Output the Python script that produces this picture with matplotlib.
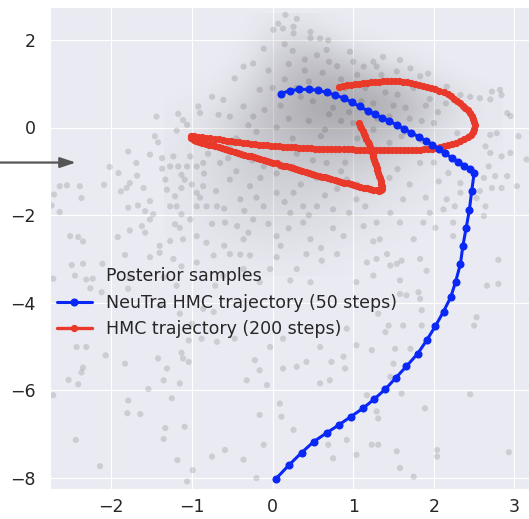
import numpy as np
import matplotlib
matplotlib.use("Agg")
import matplotlib.pyplot as plt
import seaborn as sns

# posterior samples (sparse dots)
post_x = [-0.92, -0.90, -1.44, -1.17, -1.11, -1.06, -1.19, -1.46, -1.42, -1.79, -2.02, -1.91, -1.69, -1.68, -1.52,
          -1.37, -1.33, -2.64, -2.55, -2.39, -2.37, -2.09, -2.71, -2.74, -2.64, -1.88, -1.77, -1.81, -1.60, -1.79,
          -1.67, -1.58, -1.52, -1.48, -2.51, -2.41, -2.35, -1.92, -1.77, -1.58, -1.62, -1.40, -1.27,
          -1.37, -1.27, -1.23, -1.17, -1.13, -1.09, -1.06, -1.02, -0.94, -0.86, -1.31, -1.21, -1.13, -1.27, -1.19,
          -1.13, -1.21, -1.15, -1.02, -0.94, -0.94, -0.86, -0.82, -0.94, -1.11, -0.82, -1.52,
          -2.49, -2.11, -1.83, -2.45, -2.31, -2.23, -2.72, -2.26, -2.12, -1.79, -2.43, -2.31, -2.07, -2.35, -2.37,
          -2.53, -2.41, -1.83, -2.72, -1.54, -1.79, -1.80, -1.64, -1.25, -1.33, -1.35, -1.09, -2.44, -1.18, -2.14,
          -0.99, -1.06, -1.42, -1.31, -1.13, -1.11, -1.04, -1.15, -1.35, -0.88, -2.35, -1.52, -1.40, -1.23, -1.13,
          -1.35, -1.77, -1.19, -0.94, -1.00, -0.86, -1.15, -1.40, -1.04,
          -0.73, -0.53, -0.28, 0.05, 0.42, 0.61, 0.80, 1.04, 1.17, 0.30, 0.47, 0.22, -0.03, -0.16, -0.36, -0.61,
          -0.71, -0.73, -0.69, -0.47, -0.03, 0.13, 0.59, 0.92, 1.04, 0.88, 0.73, 0.42, 0.30, 0.13, -0.22, -0.16,
          -0.32, -0.07, 0.09, 0.59, 0.71, 0.90, 1.17, -0.16, 0.11, 0.26, -0.11, -0.36, -0.59, -0.75, 0.69, 0.75,
          0.92, 1.04, -0.20,
          1.29, 1.42, 1.54, 1.46, 1.60, 1.83, 1.91, 1.25, 1.58, 1.81, 1.58, 1.66, 1.83, 1.31, 1.85, 1.44, 1.40,
          1.62, 1.85, 2.53, 2.50, 2.66, 2.80, 2.80, 1.52, 1.71, 1.23, 1.50, 1.46, 1.60, 2.45, 1.89, 1.29, 1.31,
          1.23, 1.31, 1.54, 2.04, 2.04, 2.93, 1.58, 1.75,
          2.45, 2.57, 2.84, 2.72, 2.91, 2.78, 2.70, 2.64, 2.84, 2.95, 3.05, 3.15, 2.70, 2.68, 2.76, 2.91, 3.03,
          2.84, 2.72, 2.62, 2.57, 2.62, 2.64, 2.53, 2.33, 2.26, 2.16, 2.06, 2.12, 1.95, 1.87, 2.02, 2.24, 2.24,
          1.75, 1.62, 1.46, 1.58, 1.29, 1.33, 1.83, 2.18, 2.33, 2.29, 1.58, 1.37, 1.25, 1.93, 1.71, 2.16, 2.33,
          0.16, 0.26, 0.01, 0.47, 0.67, 0.96, 1.13, 1.29, 1.54, 1.83, 2.82, 2.70, 2.95, 0.30, 0.07, 0.13, 0.26,
          0.47, 0.69, 0.59, -0.11, -0.36, -0.47, -0.61, -0.67, -0.75, -0.24,
          -0.65, -0.53, -0.40, -0.69, -0.59, -0.24, -0.11, 0.05, 0.22, 0.38, 0.55, 0.75, 0.92, 1.04, 1.13, 0.88,
          0.47, 0.05, -0.36, -0.44, -0.11, 0.26, 0.67, -0.28, 0.38, -0.53, -0.36, -0.16, -0.53, -0.24,
          0.30, 0.50, 0.70, 0.90, 1.10, 1.30, 1.50, 1.70, 0.20, 0.40, 0.80, 1.00, 0.60, 1.40, 1.90, 0.10, -0.20,
          0.30, 0.90, 1.60, 2.00, 0.55, 0.25, 1.05,
          0.15, 0.35, 0.45, 0.62, 0.75, 0.85, 0.95, 1.15, 1.25, 1.35, 1.45, 1.55, 1.65, 1.75, 1.85, 1.95, 2.05,
          2.15, 0.05, 0.25, 0.45, 0.65, 0.85, 1.05, 1.25, 1.45, 1.65, 1.85, 0.00, -0.10, -0.30, -0.45, 0.15, 0.40,
          0.70, 1.00, 0.20, -0.05,
          -0.85, -0.70, -0.55, -0.45, -0.35, -0.25, -0.15, -0.05, 0.05, 0.15, 0.25, 0.35, 0.45, 0.55, 0.65, 0.75,
          0.85, 0.95, 1.05, 1.15, 1.25, 1.45, 1.55, 1.70, -0.75, -0.60, -0.30, 0.10, 0.60, -0.90, -0.20, 0.20,
          0.50, -0.60, 0.80, -0.40, 1.90, 2.00, -1.00, -0.80]
post_y = [0.48, 0.33, 0.25, 0.31, 0.17, 0.06, -0.07, -0.20, -0.34, -0.55, -0.90, -1.04, -0.81, -1.10, -0.62,
          -0.94, -1.19, -1.34, -1.32, -1.34, -1.61, -1.31, -1.53, -1.78, -1.93, -1.46, -1.27, -1.38, -1.38, -1.83,
          -1.78, -1.91, -2.10, -1.98, -2.48, -2.50, -2.60, -2.50, -2.35, -2.40, -2.25, -2.70, -2.59,
          -0.70, -0.89, -0.66, -0.89, -1.08, -1.19, -0.89, -0.66, -0.89, -0.81, -1.42, -1.57, -1.38, -1.80, -1.80,
          -1.98, -2.21, -2.29, -2.10, -1.80, -1.49, -1.34, -1.80, -2.48, -2.55, -2.63, -1.68,
          -3.14, -3.11, -2.91, -3.38, -3.47, -3.45, -3.45, -3.67, -3.76, -3.68, -5.01, -5.01, -5.20, -5.48, -5.59,
          -5.76, -5.86, -5.39, -6.11, -5.97, -6.23, -6.52, -6.54, -6.18, -6.86, -7.11, -6.83, -7.13, -7.59, -7.73,
          -7.82, -8.08, -5.27, -5.50, -5.14, -5.27, -5.35, -5.84, -5.77, -4.82, -3.11, -2.96, -2.86, -3.00, -3.17,
          -3.42, -3.42, -3.61, -3.08, -4.48, -4.14, -4.25, -4.06, -4.86,
          -2.92, -2.89, -2.92, -2.96, -2.89, -3.04, -2.89, -3.53, -3.08, -3.23, -3.53, -3.49, -3.23, -3.53, -3.23,
          -3.38, -3.61, -4.21, -4.89, -4.82, -5.01, -4.82, -5.01, -4.59, -4.97, -5.23, -5.35, -5.35, -5.46, -5.50,
          -5.31, -5.54, -5.77, -5.88, -6.30, -5.84, -5.77, -5.50, -6.11, -6.56, -6.60, -6.90, -7.24, -7.58, -7.36,
          -7.51, -7.24, -7.55, -7.13, -7.47, -8.00,
          -3.00, -2.89, -3.11, -3.15, -3.04, -3.00, -3.27, -3.38, -3.49, -3.76, -3.80, -3.83, -3.91, -4.25, -4.17,
          -4.52, -4.67, -4.52, -4.52, -4.33, -4.52, -3.61, -3.57, -3.02, -5.05, -5.05, -5.08, -5.39, -5.69, -6.07,
          -6.09, -6.41, -6.48, -6.64, -7.24, -7.24, -7.39, -7.36, -7.51, -7.41, -7.77, -7.97,
          0.70, 0.67, 0.74, 0.82, 0.33, -0.13, -0.17, -0.43, -0.66, -0.58, -0.20, -0.73, -0.58, -0.89, -1.11,
          -1.11, -1.34, -1.38, -1.38, -1.15, -1.45, -2.02, -1.80, -1.61, -1.49, -1.80, -1.64, -1.23, -1.87, -1.95,
          -2.17, -2.29, -2.48, -2.17, -2.55, -1.64, -1.95, -2.17, -2.17, -2.55, -0.81, -1.04, -1.27, -0.13, 1.54,
          1.61, 1.50, 1.23, 1.35, 0.93, 0.74,
          2.57, 2.15, 2.23, 2.04, 1.77, 1.73, 1.39, 1.39, 1.28, 1.17, 0.86, 0.64, 0.26, 2.48, 2.37, 2.26, 2.30,
          2.18, 1.99, 2.03, 1.80, 1.39, 1.12, 0.63, 0.29, 0.70, 1.46,
          -0.81, -1.19, -1.64, -1.80, -2.17, -2.10, -1.80, -1.49, -1.95, -2.17, -1.80, -1.87, -1.19, -1.64, -2.25,
          -2.48, -2.55, -2.48, -2.55, -2.25, -0.89, -1.49, -0.81, -1.34, -1.80, -0.43, 0.48, 0.86, 0.25, 0.25,
          0.90, 0.60, 0.30, 0.90, 0.60, 0.20, 0.50, 0.20, 0.20, 1.30, 1.40, 0.10, -0.20, 0.80, 0.50, 0.50, -0.10,
          -0.60, -0.80, -0.20, 0.10, 1.65, 1.75, 1.20,
          1.10, 0.70, 1.05, 1.25, 0.45, 1.10, 0.35, 0.90, 0.55, 1.20, 0.25, 0.75, 0.45, 0.90, 0.15, 0.65, 0.35,
          0.55, 0.00, -0.25, 0.15, -0.05, 0.15, -0.25, -0.05, -0.35, -0.10, -0.30, 0.90, 0.40, 0.05, -0.25, 1.90,
          1.55, 1.50, 1.50, 1.45, 1.30,
          -1.05, -1.45, -0.70, -1.00, -1.90, -0.75, -1.15, -2.20, -1.05, -1.70, -0.90, -1.30, -2.00, -1.15, -1.55,
          -2.30, -1.00, -1.95, -1.30, -1.80, -2.60, -1.15, -0.95, -1.30, -2.20, -2.70, -2.40, -2.70, -2.75, -1.60,
          -1.60, -2.30, -0.75, -1.85, -1.40, -2.90, -1.60, -0.80, -1.30, -0.60]

# density of the dense core (0 = empty, 1 = darkest)
haze_x = [-1.2, -0.9, -0.6, -0.3, 0.0, 0.3, 0.6, 0.9, 1.2, 1.5, 1.8, 2.1, 2.4, 2.7]
haze_y = [2.4, 2.0, 1.6, 1.2, 0.8, 0.4, 0.0, -0.4, -0.8, -1.2, -1.6, -2.0, -2.4, -2.8, -3.2]
haze = [
    [0, 0, 0, 0, 0.05, 0.08, 0.03, 0, 0, 0, 0, 0, 0, 0],
    [0, 0, 0, 0.02, 0.15, 0.22, 0.18, 0.06, 0.02, 0, 0, 0, 0, 0],
    [0, 0, 0, 0.06, 0.25, 0.38, 0.38, 0.28, 0.14, 0.07, 0.02, 0, 0, 0],
    [0, 0, 0.03, 0.12, 0.33, 0.48, 0.52, 0.48, 0.38, 0.25, 0.12, 0.04, 0, 0],
    [0, 0.02, 0.08, 0.20, 0.40, 0.55, 0.65, 0.65, 0.60, 0.50, 0.35, 0.18, 0.06, 0.02],
    [0.02, 0.06, 0.14, 0.30, 0.45, 0.60, 0.70, 0.70, 0.65, 0.55, 0.40, 0.22, 0.08, 0.03],
    [0.03, 0.10, 0.20, 0.35, 0.45, 0.55, 0.60, 0.60, 0.55, 0.45, 0.30, 0.15, 0.07, 0.03],
    [0.04, 0.12, 0.22, 0.33, 0.40, 0.45, 0.50, 0.48, 0.42, 0.32, 0.20, 0.10, 0.05, 0.02],
    [0.05, 0.12, 0.22, 0.30, 0.35, 0.38, 0.38, 0.35, 0.30, 0.22, 0.12, 0.07, 0.03, 0.02],
    [0.05, 0.12, 0.20, 0.26, 0.30, 0.30, 0.30, 0.26, 0.20, 0.13, 0.07, 0.04, 0.02, 0],
    [0.04, 0.10, 0.16, 0.22, 0.24, 0.24, 0.22, 0.18, 0.13, 0.08, 0.05, 0.02, 0, 0],
    [0.03, 0.08, 0.13, 0.17, 0.18, 0.18, 0.16, 0.13, 0.09, 0.05, 0.03, 0.01, 0, 0],
    [0.02, 0.05, 0.09, 0.12, 0.13, 0.13, 0.11, 0.08, 0.05, 0.03, 0.01, 0, 0, 0],
    [0, 0.03, 0.05, 0.07, 0.08, 0.08, 0.06, 0.04, 0.02, 0.01, 0, 0, 0, 0],
    [0, 0.01, 0.02, 0.03, 0.03, 0.03, 0.02, 0.01, 0, 0, 0, 0, 0, 0],
]

# NeuTra HMC trajectory (50 steps)
neutra_x = [0.04, 0.20, 0.36, 0.51, 0.67, 0.82, 0.97, 1.12, 1.26, 1.40, 1.53, 1.66, 1.80, 1.91, 2.02, 2.12,
            2.21, 2.27, 2.33, 2.36, 2.40, 2.44, 2.47, 2.50,
            2.45, 2.38, 2.30, 2.22, 2.14, 2.06, 1.98, 1.90, 1.81, 1.72, 1.63, 1.54, 1.45, 1.36, 1.27, 1.18,
            1.08, 0.98, 0.88, 0.78, 0.67, 0.56, 0.45, 0.33, 0.21, 0.10]
neutra_y = [-8.02, -7.71, -7.42, -7.17, -6.97, -6.79, -6.60, -6.41, -6.20, -5.97, -5.71, -5.45, -5.16, -4.86,
            -4.53, -4.20, -3.87, -3.52, -3.11, -2.70, -2.30, -1.89, -1.44, -1.04,
            -0.95, -0.87, -0.78, -0.69, -0.59, -0.49, -0.39, -0.30, -0.21, -0.12, -0.03, 0.06, 0.14, 0.22, 0.30,
            0.38, 0.48, 0.58, 0.67, 0.74, 0.80, 0.85, 0.87, 0.87, 0.84, 0.77]

# HMC trajectory (200 steps)
hmc_x = [0.82, 0.87, 0.92, 0.97, 1.02, 1.07, 1.12, 1.17, 1.22, 1.27, 1.32, 1.37, 1.42, 1.47, 1.52, 1.57, 1.62,
         1.67, 1.72, 1.77, 1.82, 1.87, 1.92, 1.97, 2.02, 2.07, 2.12, 2.17, 2.21, 2.25, 2.29, 2.33, 2.36, 2.39,
         2.42, 2.45, 2.47, 2.49, 2.50, 2.51,
         2.50, 2.48, 2.46, 2.42, 2.38, 2.33, 2.28, 2.23, 2.18, 2.13, 2.08, 2.03, 1.98, 1.93, 1.88, 1.83, 1.78,
         1.73, 1.68,
         1.63, 1.58, 1.53, 1.48, 1.43, 1.38, 1.33, 1.28, 1.23, 1.18, 1.13, 1.08, 1.03, 0.98, 0.93, 0.88, 0.83,
         0.78, 0.73, 0.68, 0.63, 0.58, 0.53, 0.48, 0.43, 0.38, 0.33, 0.28, 0.23, 0.18, 0.13, 0.08, 0.03, -0.02,
         -0.07, -0.12, -0.17, -0.22, -0.27, -0.32, -0.37, -0.42, -0.47, -0.52, -0.57, -0.62, -0.67, -0.72, -0.77,
         -0.82, -0.87, -0.92, -0.97,
         -1.01, -1.01, -0.98, -0.95, -0.91, -0.87, -0.83, -0.79, -0.75, -0.71, -0.67, -0.63, -0.59, -0.55, -0.51,
         -0.47, -0.43, -0.39, -0.35, -0.31, -0.27, -0.23, -0.19, -0.15, -0.11, -0.07, -0.03, 0.01, 0.05, 0.09,
         0.13, 0.17, 0.21, 0.25, 0.29, 0.33, 0.37, 0.41, 0.45, 0.49, 0.53, 0.57, 0.61, 0.65, 0.69, 0.73, 0.77,
         0.81, 0.85, 0.89, 0.93, 0.97, 1.01, 1.05, 1.09, 1.13, 1.17, 1.21, 1.25, 1.29, 1.32, 1.35, 1.36,
         1.36, 1.35, 1.34, 1.33, 1.32, 1.31, 1.30, 1.29, 1.28, 1.27, 1.26, 1.25, 1.24, 1.23, 1.22, 1.21, 1.19,
         1.18, 1.16, 1.15, 1.13, 1.12, 1.10, 1.09, 1.07]
hmc_y = [0.93, 0.95, 0.96, 0.98, 0.99, 1.00, 1.01, 1.02, 1.03, 1.04, 1.04, 1.05, 1.05, 1.05, 1.05, 1.05, 1.04,
         1.03, 1.01, 0.99, 0.97, 0.95, 0.93, 0.90, 0.87, 0.84, 0.80, 0.76, 0.71, 0.66, 0.61, 0.56, 0.50, 0.45,
         0.39, 0.33, 0.26, 0.19, 0.12, 0.05,
         -0.03, -0.10, -0.16, -0.22, -0.27, -0.31, -0.35, -0.38, -0.41, -0.43, -0.45, -0.47, -0.48, -0.49, -0.50,
         -0.51, -0.51, -0.52, -0.52,
         -0.52, -0.52, -0.52, -0.52, -0.52, -0.52, -0.52, -0.52, -0.52, -0.51, -0.51, -0.51, -0.51, -0.50, -0.50,
         -0.50, -0.50, -0.49, -0.49, -0.49, -0.48, -0.48, -0.48, -0.47, -0.47, -0.46, -0.46, -0.45, -0.45, -0.44,
         -0.44, -0.43, -0.42, -0.42, -0.41, -0.40, -0.39, -0.38, -0.37, -0.36, -0.35, -0.34, -0.32, -0.31, -0.30,
         -0.29, -0.27, -0.26, -0.25, -0.23, -0.22, -0.21, -0.19,
         -0.20, -0.24, -0.28, -0.31, -0.33, -0.35, -0.37, -0.39, -0.41, -0.43, -0.45, -0.47, -0.49, -0.51, -0.54,
         -0.56, -0.58, -0.60, -0.62, -0.64, -0.66, -0.68, -0.70, -0.72, -0.74, -0.76, -0.78, -0.80, -0.82, -0.85,
         -0.87, -0.89, -0.91, -0.93, -0.95, -0.97, -0.99, -1.02, -1.04, -1.06, -1.08, -1.10, -1.12, -1.14, -1.16,
         -1.18, -1.20, -1.22, -1.24, -1.26, -1.27, -1.29, -1.31, -1.33, -1.35, -1.37, -1.39, -1.40, -1.42, -1.43,
         -1.44, -1.43, -1.40,
         -1.34, -1.28, -1.22, -1.16, -1.10, -1.04, -0.98, -0.92, -0.86, -0.80, -0.74, -0.68, -0.62, -0.56, -0.50,
         -0.44, -0.38, -0.32, -0.26, -0.20, -0.14, -0.08, -0.02, 0.04, 0.10]

legend_labels = ["Posterior samples", "NeuTra HMC trajectory (50 steps)", "HMC trajectory (200 steps)"]
blue = "#0a28f5"
red = "#e8392a"

sns.set_style("darkgrid")
plt.rcParams["font.family"] = ["DejaVu Sans"]
plt.rcParams["font.size"] = 12.5

fig = plt.figure(figsize=(5.29, 5.19), dpi=100)
ax = fig.add_axes([50 / 529, 30 / 519, 479 / 529, 482 / 519])

# core haze
hz = np.array(haze)
rgba = np.zeros(hz.shape + (4,))
rgba[..., :3] = 0.2
rgba[..., 3] = hz * 0.5
dx = (haze_x[1] - haze_x[0]) / 2
dy = (haze_y[0] - haze_y[1]) / 2
ax.imshow(rgba, extent=(haze_x[0] - dx, haze_x[-1] + dx, haze_y[-1] - dy, haze_y[0] + dy),
          interpolation="bicubic", aspect="auto", zorder=1)

ax.scatter(post_x, post_y, s=20, color="#333333", alpha=0.16, edgecolors="none", zorder=2,
           label=legend_labels[0])
ax.plot(neutra_x, neutra_y, "-o", color=blue, lw=2.2, ms=4.8, zorder=4, label=legend_labels[1])
ax.plot(hmc_x, hmc_y, "-o", color=red, lw=2.4, ms=4.2, zorder=3, label=legend_labels[2])

ax.annotate("", xy=(-2.44, -0.80), xytext=(-3.42, -0.80), annotation_clip=False,
            arrowprops=dict(arrowstyle="-|>,head_length=0.6,head_width=0.2", color="#555555",
                            lw=1.6, mutation_scale=15.6, shrinkA=0, shrinkB=0))

ax.set_xlim(-2.76, 3.18)
ax.set_ylim(-8.25, 2.75)
ax.set_xticks([-2, -1, 0, 1, 2, 3])
ax.set_yticks([2, 0, -2, -4, -6, -8])
ax.tick_params(axis="x", labelsize=12.5, pad=3)
ax.tick_params(axis="y", labelsize=12.5, pad=7)

leg = ax.legend(loc="upper left", bbox_to_anchor=(0.0, 0.475), borderaxespad=0, frameon=False,
                fontsize=12.5)
leg.legend_handles[0].set_alpha(0.0)

fig.savefig("out.png", dpi=100)
